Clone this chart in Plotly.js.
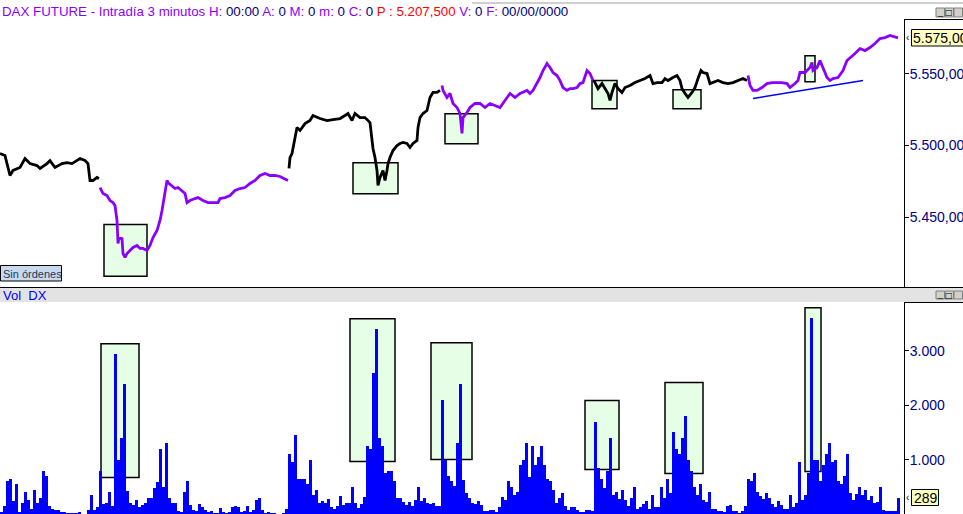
<!DOCTYPE html>
<html><head><meta charset="utf-8">
<script src="https://cdn.plot.ly/plotly-3.0.1.min.js"></script>
<style>html,body{margin:0;padding:0;background:#fff;overflow:hidden}#chart{width:963px;height:514px}</style>
</head><body><div id="chart"></div>
<script>
// ---- price samples (t = bar number, one 3-minute bar per pixel column) ----
const priceT = [
0,5,7,10,13,20,25,30,37,40,47,50,55,62,67,72,80,85,88,90,93,97,99,
100,103,107,110,113,115,117,118,119,122,123,125,127,130,133,137,140,143,147,150,153,157,160,162,163,165,167,168,172,175,178,182,185,187,190,195,198,203,208,213,218,220,225,230,235,240,245,250,255,260,265,270,275,280,285,288,
289,290,292,293,295,297,300,305,310,313,320,327,333,340,345,348,352,355,360,365,370,372,373,375,377,378,380,383,385,387,388,390,393,397,400,403,407,410,413,417,418,420,423,427,430,433,437,440,
442,443,447,450,453,457,460,462,463,467,470,475,480,485,490,495,500,505,510,515,520,527,530,533,537,540,543,547,550,553,557,560,563,567,570,573,577,580,583,587,590,593,
594,598,602,605,608,610,612,615,618,622,625,630,635,640,645,650,653,657,662,665,668,673,677,680,682,685,688,692,695,698,701,703,707,710,713,718,723,728,733,738,743,747,
748,750,753,757,762,767,772,777,782,787,790,795,798,800,805,810,812,813,817,820,823,827,830,833,838,843,847,850,855,860,865,870,875,880,885,890,895,898];
const priceP = [
5494.4,5493.0,5487.4,5479.1,5482.6,5484.7,5490.9,5487.4,5486.0,5484.0,5487.4,5489.5,5484.7,5487.4,5488.1,5487.4,5490.9,5489.5,5487.4,5475.6,5475.6,5477.7,5477.0,
5470.7,5466.5,5465.1,5461.6,5460.2,5458.2,5447.7,5431.7,5435.8,5435.1,5424.7,5421.9,5424.7,5426.8,5428.9,5430.3,5428.2,5428.2,5426.8,5430.3,5435.8,5440.7,5447.7,5454.7,5459.5,5468.6,5475.6,5474.2,5472.1,5470.0,5470.7,5468.6,5466.5,5460.2,5461.6,5463.0,5463.7,5461.6,5460.2,5460.2,5460.2,5463.0,5463.7,5465.1,5468.6,5470.0,5470.7,5473.5,5475.6,5479.1,5480.5,5479.1,5479.1,5478.4,5477.0,5475.6,
5484.0,5491.6,5494.4,5498.6,5505.6,5512.5,5510.5,5515.3,5517.4,5520.9,5518.8,5517.4,5518.1,5518.8,5520.9,5522.3,5517.4,5522.3,5519.5,5519.5,5516.0,5505.6,5497.9,5491.6,5482.6,5472.1,5477.7,5482.6,5475.6,5482.6,5487.4,5491.6,5496.5,5500.0,5501.4,5502.1,5501.4,5498.6,5501.4,5503.5,5512.5,5519.5,5522.3,5524.4,5533.5,5537.0,5537.0,5538.4,
5541.8,5538.4,5533.5,5536.3,5529.3,5526.5,5522.3,5508.4,5519.5,5523.0,5526.5,5529.3,5529.3,5526.5,5529.3,5527.9,5526.5,5531.4,5536.3,5533.5,5536.3,5538.4,5536.3,5538.4,5543.2,5547.4,5552.3,5557.2,5554.4,5550.9,5548.8,5545.3,5540.4,5538.4,5539.7,5539.7,5540.4,5543.2,5543.9,5552.3,5550.2,5545.3,
5545.3,5539.7,5543.2,5539.7,5536.3,5531.4,5537.0,5543.2,5539.7,5537.0,5540.4,5541.8,5543.9,5545.3,5546.7,5548.8,5543.2,5543.9,5543.9,5546.7,5545.3,5547.4,5548.8,5545.3,5539.7,5536.3,5533.5,5537.0,5540.4,5546.7,5552.3,5550.9,5550.2,5543.2,5543.9,5545.3,5543.9,5543.2,5543.9,5545.3,5546.7,5545.3,
5548.8,5541.8,5538.4,5538.4,5540.4,5543.2,5543.9,5543.9,5543.9,5543.2,5540.4,5543.2,5545.3,5550.9,5550.9,5554.4,5557.9,5552.3,5554.4,5559.3,5554.4,5547.4,5545.3,5546.7,5547.4,5552.3,5559.3,5561.4,5564.2,5567.6,5566.2,5568.3,5571.1,5574.6,5575.3,5576.7,5575.3,5575.0];
const sessionStarts = [0, 100, 289, 442, 594, 748];
const sessionColors = ['#000000', '#8a00ff', '#000000', '#8a00ff', '#000000', '#8a00ff'];

// ---- volume, one value per 3 bars ----
const volStep = 3;
const volume = [
40,150,600,650,230,550,40,200,400,250,
100,450,200,300,800,700,150,100,80,80,
30,30,10,20,10,10,30,5,5,70,
350,80,120,800,180,200,400,150,2950,1000,
1400,2400,430,200,170,250,120,170,210,300,
300,480,590,1200,500,1300,300,200,200,60,
30,400,600,170,70,50,180,120,80,40,
50,20,20,110,30,15,40,130,150,130,
30,50,150,30,80,250,300,80,10,40,
15,10,5,5,20,90,1100,950,1450,650,
650,650,550,1000,350,450,200,240,210,280,
120,100,150,330,160,210,210,500,200,110,
180,320,1250,1200,2600,3400,1400,1250,750,800,
800,600,300,290,220,170,220,150,250,500,
240,300,200,180,200,150,150,2100,1000,700,
600,520,1300,2400,620,380,300,
200,180,230,170,60,60,80,80,40,130,
320,250,600,500,350,400,900,1000,1300,680,
1250,900,1050,1250,900,650,600,450,200,300,
380,150,70,120,120,70,30,30,70,80,
50,1700,850,650,480,800,1400,350,400,270,
450,250,150,300,500,100,120,180,230,100,
350,120,130,500,300,650,380,1500,1200,1100,
1400,1800,1000,800,500,350,
550,250,220,400,100,100,50,60,40,150,
160,60,60,20,50,150,650,600,750,400,
330,280,380,300,180,120,230,160,90,100,
350,120,200,950,250,350,750,3600,1000,1000,
600,900,1100,1300,950,1000,600,560,700,1100,
380,260,360,500,350,450,250,330,200,220,
500,70,50,50,50,50,289];

// ---- marked zones and trend line ----
const priceBoxT0 = [104, 353, 445, 592, 673, 805];
const priceBoxT1 = [147, 398, 478, 617, 701, 815];
const priceBoxLo = [5408.8, 5466.3, 5501.2, 5525.6, 5525.6, 5544.4];
const priceBoxHi = [5444.9, 5487.9, 5522.1, 5545.3, 5538.8, 5562.6];
const volBoxT0 = [101, 350, 431, 585, 665, 805];
const volBoxT1 = [139, 395, 472, 619, 703, 821];
const volBoxLo = [673, 967, 1004, 820, 747, 783];
const volBoxHi = [3132, 3591, 3150, 2086, 2417, 3793];
const trendT = [753, 863];
const trendP = [5532.8, 5545.3];

const priceTicks = [5450, 5500, 5550];
const volTicks = [1000, 2000, 3000];
const lastPrice = 5575;
const lastVolume = 289;

// ---- build ----
const W = 963, H = 514, PW = 904;
const fx = x => x / PW, fy = y => 1 - y / H;
const traces = [];
sessionStarts.forEach((s, k) => {
  const e = k + 1 < sessionStarts.length ? sessionStarts[k + 1] : Infinity;
  const xs = [], ys = [];
  priceT.forEach((t, i) => { if (t >= s && t < e) { xs.push(t); ys.push(priceP[i]); } });
  traces.push({type: 'scatter', mode: 'lines', x: xs, y: ys, xaxis: 'x', yaxis: 'y',
    line: {color: sessionColors[k], width: 2.8}, hoverinfo: 'skip'});
});
traces.push({type: 'scatter', mode: 'lines', x: trendT, y: trendP, xaxis: 'x', yaxis: 'y',
  line: {color: '#0000ff', width: 1.5}, hoverinfo: 'skip'});
traces.push({type: 'bar', x: volume.map((v, j) => j * volStep + volStep / 2), y: volume,
  width: volStep, xaxis: 'x2', yaxis: 'y2', marker: {color: '#0000ff', line: {width: 0}}, hoverinfo: 'skip'});

const shapes = [];
priceBoxT0.forEach((t0, i) => shapes.push({type: 'rect', xref: 'x', yref: 'y', layer: 'below',
  x0: t0, x1: priceBoxT1[i], y0: priceBoxLo[i], y1: priceBoxHi[i],
  fillcolor: '#e6fde6', line: {color: '#000', width: 1.5}}));
volBoxT0.forEach((t0, i) => shapes.push({type: 'rect', xref: 'x2', yref: 'y2', layer: 'below',
  x0: t0, x1: volBoxT1[i], y0: volBoxLo[i], y1: volBoxHi[i],
  fillcolor: '#e6fde6', line: {color: '#000', width: 1.5}}));
const P = (o) => Object.assign({xref: 'paper', yref: 'paper'}, o);
// frame pieces
shapes.push(P({type: 'line', x0: fx(472), x1: fx(W), y0: fy(3), y1: fy(3), line: {color: '#a0a0a0', width: 1}}));
shapes.push(P({type: 'line', x0: fx(904), x1: fx(W), y0: fy(19.5), y1: fy(19.5), line: {color: '#000', width: 1}}));
shapes.push(P({type: 'rect', x0: 0, x1: fx(W), y0: fy(302), y1: fy(288), fillcolor: '#e3e3e3', line: {width: 0}}));
shapes.push(P({type: 'line', x0: 0, x1: fx(W), y0: fy(287.5), y1: fy(287.5), line: {color: '#000', width: 1}}));
shapes.push(P({type: 'line', x0: fx(904), x1: fx(W), y0: fy(302.5), y1: fy(302.5), line: {color: '#000', width: 1}}));
// window buttons
[[8, 17], [291, 299]].forEach(([a, b]) => {
  [936, 945, 954].forEach(bx => shapes.push(P({type: 'rect', x0: fx(bx), x1: fx(bx + 8.5), y0: fy(b), y1: fy(a),
    fillcolor: '#d4d0c8', line: {color: '#808080', width: 1}})));
});
// Sin ordenes box and value boxes
shapes.push(P({type: 'rect', x0: fx(0.5), x1: fx(61.5), y0: fy(281), y1: fy(265.5), fillcolor: '#c9d9ee', line: {color: '#000', width: 1}}));
shapes.push(P({type: 'rect', x0: fx(911.5), x1: fx(968), y0: fy(46), y1: fy(29.5), fillcolor: '#ffffc0', line: {color: '#000', width: 1}}));
shapes.push(P({type: 'rect', x0: fx(911.5), x1: fx(938.5), y0: fy(505.5), y1: fy(489.5), fillcolor: '#ffffc0', line: {color: '#000', width: 1}}));

const fam = 'Liberation Sans, Arial, sans-serif';
const A = (x, y, text, o) => Object.assign({xref: 'paper', yref: 'paper', x: fx(x), y: fy(y), text: text, showarrow: false,
  xanchor: 'left', yanchor: 'middle', borderpad: 0, font: {family: fam, size: 13, color: '#000'}}, o || {});
const V = '#8a00ff', N = '#000080';
const sp = (c, t) => `<span style="color:${c}">${t}</span>`;
const titleText = sp(V, 'DAX FUTURE - Intradía 3 minutos H: ') + sp(N, '00:00') + sp(V, ' A: ') + sp(N, '0') +
  sp(V, ' M: ') + sp(N, '0') + sp(V, ' m: ') + sp(N, '0') + sp(V, ' C: ') + sp(N, '0') +
  sp('#ff0000', ' P : 5.207,500') + sp(V, ' V: ') + sp(N, '0') + sp(V, ' F: ') + sp(N, '00/00/0000');
const fmtPrice = v => v.toFixed(2).replace('.', ',').replace(/\B(?=(\d{3})+(?!\d))/, '.');
const annotations = [
  A(1, 11, titleText, {font: {family: fam, size: 13.3, color: V}}),
  A(2, 295, 'Vol&nbsp;&nbsp;DX', {font: {family: fam, size: 13, color: '#0000ff'}}),
  A(2, 273.5, 'Sin órdenes', {font: {family: fam, size: 11, color: '#1a3a5a'}}),
  A(912.5, 38, fmtPrice(lastPrice), {font: {family: fam, size: 14, color: '#000'}}),
  A(913, 497.5, String(lastVolume), {font: {family: fam, size: 14, color: '#000'}}),
  A(905, 37.5, '‹', {font: {family: fam, size: 10, color: '#000'}}),
  A(905, 497.5, '‹', {font: {family: fam, size: 10, color: '#000'}}),
];
[[12.5], [295]].forEach(([cy]) => {
  annotations.push(A(940.2, cy - 1, '_', {xanchor: 'center', font: {family: fam, size: 9, color: '#000'}}));
  annotations.push(A(949.2, cy, '□', {xanchor: 'center', font: {family: 'DejaVu Sans', size: 8, color: '#000'}}));
});

const tickfont = {family: fam, size: 14, color: '#000080'};
const layout = {
  width: W, height: H, margin: {l: 0, r: W - PW, t: 0, b: 0, pad: 0},
  paper_bgcolor: '#ffffff', plot_bgcolor: 'rgba(0,0,0,0)', showlegend: false, separators: ',.',
  bargap: 0, dragmode: false,
  xaxis: {range: [0, 904], visible: false, fixedrange: true},
  xaxis2: {range: [0, 904], visible: false, fixedrange: true, anchor: 'y2'},
  yaxis: {domain: [fy(287.5), fy(19.5)], range: [5400.98, 5587.87], side: 'right', anchor: 'x',
    showgrid: false, zeroline: false, showline: true, linecolor: '#000', linewidth: 1, mirror: false,
    ticks: 'outside', ticklen: 4, tickwidth: 1, tickcolor: '#000', tickvals: priceTicks, tickformat: ',.2f',
    tickfont: tickfont, ticklabelstandoff: -2, fixedrange: true},
  yaxis2: {domain: [0, fy(302.5)], range: [0, 3890], side: 'right', anchor: 'x2',
    showgrid: false, zeroline: false, showline: true, linecolor: '#000', linewidth: 1,
    ticks: 'outside', ticklen: 4, tickwidth: 1, tickcolor: '#000', tickvals: volTicks, tickformat: ',d',
    tickfont: tickfont, ticklabelstandoff: -2, fixedrange: true},
  shapes: shapes, annotations: annotations
};
Plotly.newPlot('chart', traces, layout, {staticPlot: true, displayModeBar: false});
</script></body></html>
